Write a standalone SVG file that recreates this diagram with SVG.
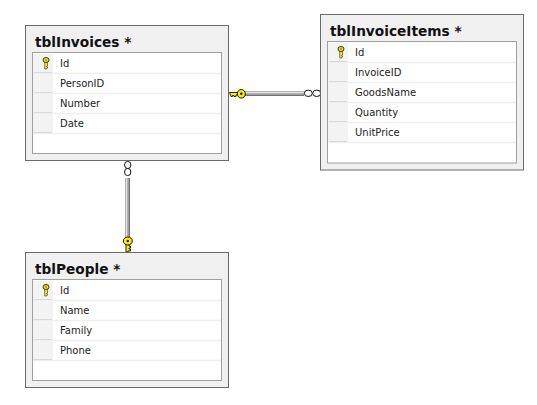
<svg xmlns="http://www.w3.org/2000/svg" width="537" height="405" viewBox="0 0 537 405">
<style>
.outer{fill:#f0f0f0;stroke:#696969;stroke-width:1}
.inner{fill:#fff;stroke:#a0a0a0;stroke-width:1}
.title{font-family:"DejaVu Sans",sans-serif;font-weight:bold;font-size:13.700px;fill:#111}
.f{font-family:"DejaVu Sans",sans-serif;font-size:10px;fill:#222}
.sep{stroke:#efefef;stroke-width:1.500}
.sel{fill:#f3f3f3}
.selb{stroke:#d0d0d0;stroke-width:1}
.k{fill:#ffe900;stroke:#111;stroke-width:1}
.ring{fill:#fff;stroke:#111;stroke-width:1}
</style>
<defs>
<g id="key"><path d="M-1.300-3V5.500H.8V4.500H1.500V3.500H.8V2.500H1.500V-3Z" fill="#ffe900" stroke="#333" stroke-width=".6"/><ellipse cx="0" cy="-3.500" rx="3" ry="2.500" fill="#ffe900" stroke="#333" stroke-width="1"/><circle cx="0" cy="-3.500" r=".7" fill="#333"/></g>
<g id="row"><rect class="sel" x="0" y="0" width="20" height="19"/><path class="selb" d="M1 18.500H19"/><path class="sep" d="M0 19.500H188"/></g>
</defs>
<g id="connectors">
<path d="M245 93.500H304" fill="none" stroke="#a0a0a0" stroke-width="5"/>
<path d="M245 95.500H304" fill="none" stroke="#707070" stroke-width="1"/>
<path d="M245 92.500H304" fill="none" stroke="#e4e4e4" stroke-width="1.500"/>
<path d="M127.500 178V237" fill="none" stroke="#a0a0a0" stroke-width="5"/>
<path d="M129.500 178V237" fill="none" stroke="#707070" stroke-width="1"/>
<path d="M126.500 178V237" fill="none" stroke="#e4e4e4" stroke-width="1.500"/>
<g id="key-right"><path d="M229.500 92.500H238V95H236V96.500H234V95.500H232.500V96.500H231Z" fill="#ffe900" stroke="#111" stroke-width=".9"/><ellipse cx="241.300" cy="93.800" rx="4" ry="4.300" class="k"/><circle cx="241.300" cy="93.800" r="1.200" fill="#111"/></g>
<ellipse class="ring" cx="308.300" cy="93.300" rx="4" ry="3.200"/><ellipse class="ring" cx="316.700" cy="93.300" rx="4" ry="3.200"/>
<ellipse class="ring" cx="127.700" cy="165" rx="3.200" ry="3.600"/><ellipse class="ring" cx="127.700" cy="172" rx="3.200" ry="3.600"/>
<g id="key-bottom"><path d="M126 244V252H128V251H130.500V249H129V248H130.500V246H129V244Z" fill="#ffe900" stroke="#111" stroke-width=".9"/><ellipse cx="127.800" cy="241" rx="4.500" ry="4" class="k"/><circle cx="127.800" cy="241" r="1.200" fill="#111"/></g>
</g>
<g id="tblInvoices">
<rect class="outer" x="25.500" y="25.500" width="203" height="135"/>
<rect class="inner" x="32.500" y="52.500" width="189" height="101"/>
<text class="title" x="35" y="47">tblInvoices *</text>
<use href="#row" x="33" y="54"/><use href="#row" x="33" y="74"/><use href="#row" x="33" y="94"/><use href="#row" x="33" y="114"/>
<use href="#key" x="46" y="63.500"/>
<text class="f" x="60" y="67">Id</text><text class="f" x="60" y="87">PersonID</text><text class="f" x="60" y="107">Number</text><text class="f" x="60" y="127">Date</text>
</g>
<g id="tblInvoiceItems">
<rect class="outer" x="320.500" y="14.500" width="203" height="155.500"/>
<rect class="inner" x="327.500" y="41.500" width="189" height="121.500"/>
<text class="title" x="330" y="36">tblInvoiceItems *</text>
<use href="#row" x="328" y="43"/><use href="#row" x="328" y="63"/><use href="#row" x="328" y="83"/><use href="#row" x="328" y="103"/><use href="#row" x="328" y="123"/>
<use href="#key" x="341" y="52.500"/>
<text class="f" x="355" y="56">Id</text><text class="f" x="355" y="76">InvoiceID</text><text class="f" x="355" y="96">GoodsName</text><text class="f" x="355" y="116">Quantity</text><text class="f" x="355" y="136">UnitPrice</text>
</g>
<g id="tblPeople">
<rect class="outer" x="25.500" y="252.500" width="203" height="135"/>
<rect class="inner" x="32.500" y="279.500" width="189" height="101"/>
<text class="title" x="35" y="274">tblPeople *</text>
<use href="#row" x="33" y="281"/><use href="#row" x="33" y="301"/><use href="#row" x="33" y="321"/><use href="#row" x="33" y="341"/>
<use href="#key" x="46" y="290.500"/>
<text class="f" x="60" y="294">Id</text><text class="f" x="60" y="314">Name</text><text class="f" x="60" y="334">Family</text><text class="f" x="60" y="354">Phone</text>
</g>
</svg>
